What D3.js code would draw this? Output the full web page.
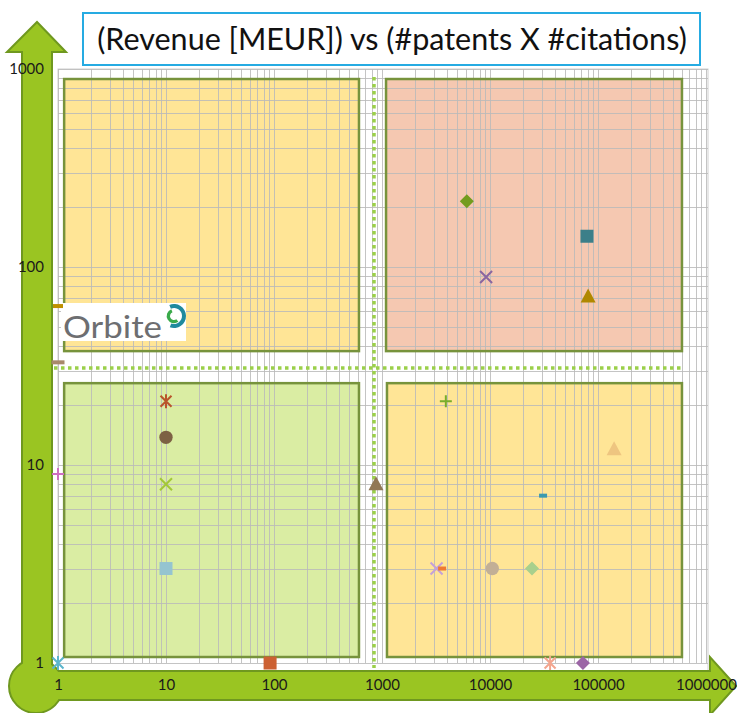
<!DOCTYPE html>
<html>
<head>
<meta charset="utf-8">
<script src="https://cdn.jsdelivr.net/npm/d3@7"></script>
<style>
  body { margin: 0; background: #fff; }
  svg { display: block; font-family: Lato, 'Open Sans', sans-serif; }
</style>
</head>
<body>
<div id="chart"></div>
<script>
// axis ticks
var xTicks = [1, 10, 100, 1000, 10000, 100000, 1000000]
var yTicks = [1, 10, 100, 1000]

// one entry per company: x = #patents X #citations, y = revenue [MEUR]
var patentsXcitations = [6100, 79000, 9200, 81000, 10, 10, 10, 10, 1, 880, 3900, 141000, 31000, 3200, 3600, 10500, 24500, 1, 92, 36000, 72500, 1, 1]
var revenueMEUR = [215, 143, 89, 71, 21, 13.8, 8, 3, 9, 8, 21, 12, 7, 3, 3, 3, 3, 1, 1, 1, 1, 63.5, 33]

// marker look for each entry above (same order)
var markerShapes = ['diamond', 'square', 'x', 'triangle', 'star', 'circle', 'x', 'square', 'plus', 'triangle', 'plus', 'triangle', 'dash', 'x', 'dash', 'circle', 'diamond', 'star', 'square', 'star', 'diamond', 'dash', 'dash']
var markerColors = ['#739c1f', '#3c7f89', '#8a66a0', '#b08800', '#b9542b', '#7d6144', '#a3c739', '#95c4d0', '#cf6fc3', '#917755', '#78ad2c', '#eec580', '#3b9ab0', '#c4a0d8', '#ee7a33', '#c2af96', '#a8d08d', '#5bb5cc', '#cc6133', '#f3a58e', '#9c66a6', '#bf9000', '#a8896b']

// quadrant boxes and thresholds (data units)
var quadrants = [
  { x0: 1.14, x1: 612, y0: 37.6, y1: 890, fill: '#ffe596' },
  { x0: 1090, x1: 599000, y0: 37.6, y1: 890, fill: '#f5c8b1' },
  { x0: 1.14, x1: 612, y0: 1.072, y1: 25.9, fill: '#daeda3' },
  { x0: 1112, x1: 599000, y0: 1.072, y1: 25.9, fill: '#ffe596' },
]
var xThreshold = 843
var yThreshold = 30.9

var width = 737
var height = 713

var svg = d3
  .select('#chart')
  .append('svg')
  .attr('width', width)
  .attr('height', height)

var x = d3.scaleLog().domain([1, 1000000]).range([58, 706])
var y = d3.scaleLog().domain([1, 1000]).range([663, 69])

var arrowFill = '#9ac522'
var arrowStroke = '#6f981f'

// plot frame
svg
  .append('rect')
  .attr('x', 58)
  .attr('y', 69)
  .attr('width', 650)
  .attr('height', 602)
  .attr('fill', '#fff')
  .attr('stroke', '#cfcfcf')

// quadrant fills
svg
  .selectAll('.quad')
  .data(quadrants)
  .enter()
  .append('rect')
  .attr('class', 'quad')
  .attr('x', d => x(d.x0))
  .attr('y', d => y(d.y1))
  .attr('width', d => x(d.x1) - x(d.x0))
  .attr('height', d => y(d.y0) - y(d.y1))
  .attr('fill', d => d.fill)

// gridlines: majors and minors on both log axes
function logLines(domain) {
  var out = []
  for (var p = Math.log10(domain[0]); p < Math.log10(domain[1]); p++) {
    for (var k = 1; k <= 9; k++) out.push(k * Math.pow(10, p))
  }
  out.push(domain[1])
  return out
}

var grid = svg.append('g').attr('stroke', '#bababa').attr('stroke-opacity', 0.85)
grid
  .selectAll('.vg')
  .data(logLines(x.domain()))
  .enter()
  .append('line')
  .attr('x1', d => Math.round(x(d)) + 0.5)
  .attr('x2', d => Math.round(x(d)) + 0.5)
  .attr('y1', y(1000))
  .attr('y2', y(1))
grid
  .selectAll('.hg')
  .data(logLines(y.domain()))
  .enter()
  .append('line')
  .attr('y1', d => Math.round(y(d)) + 0.5)
  .attr('y2', d => Math.round(y(d)) + 0.5)
  .attr('x1', x(1))
  .attr('x2', 708)

// quadrant borders
svg
  .selectAll('.quadb')
  .data(quadrants)
  .enter()
  .append('rect')
  .attr('x', d => x(d.x0))
  .attr('y', d => y(d.y1))
  .attr('width', d => x(d.x1) - x(d.x0))
  .attr('height', d => y(d.y0) - y(d.y1))
  .attr('fill', 'none')
  .attr('stroke', '#77933c')
  .attr('stroke-width', 2.5)

// dotted thresholds
svg
  .append('line')
  .attr('x1', x(xThreshold))
  .attr('x2', x(xThreshold))
  .attr('y1', 77)
  .attr('y2', 668)
  .attr('stroke', '#9bd04a')
  .attr('stroke-width', 3.5)
  .attr('stroke-dasharray', '3.5,3.5')
svg
  .append('line')
  .attr('x1', 54)
  .attr('x2', 682)
  .attr('y1', y(yThreshold))
  .attr('y2', y(yThreshold))
  .attr('stroke', '#9bd04a')
  .attr('stroke-width', 3.5)
  .attr('stroke-dasharray', '3.5,3.5')

// axis arrows
svg
  .append('path')
  .attr('d', 'M22,690 L22,52 L7,52 L37,22 L66,52 L52,52 L52,690 Z')
  .attr('fill', arrowFill)
  .attr('stroke', arrowStroke)
  .attr('stroke-width', 2)
svg
  .append('path')
  .attr('d', 'M36,671 L710,671 L710,657 L736,686 L710,715 L710,700 L36,700 Z')
  .attr('fill', arrowFill)
  .attr('stroke', arrowStroke)
  .attr('stroke-width', 2)
svg
  .append('circle')
  .attr('cx', 36)
  .attr('cy', 686)
  .attr('r', 27)
  .attr('fill', arrowFill)
  .attr('stroke', arrowStroke)
  .attr('stroke-width', 2)
// hide the seams where shapes meet
svg.append('rect').attr('x', 23).attr('y', 655).attr('width', 28).attr('height', 20).attr('fill', arrowFill)
svg.append('rect').attr('x', 45).attr('y', 672).attr('width', 30).attr('height', 27).attr('fill', arrowFill)

// axis labels
var yAxis = svg
  .append('g')
  .attr('transform', 'translate(44,0)')
  .call(d3.axisLeft(y).tickValues(yTicks).tickFormat(d3.format('d')).tickSize(0).tickPadding(0))
yAxis.select('.domain').remove()
yAxis.selectAll('text').attr('font-size', 15).attr('font-family', 'Lato').attr('fill', '#1a1a1a')

var xAxis = svg
  .append('g')
  .attr('transform', 'translate(0,685)')
  .call(d3.axisBottom(x).tickValues(xTicks).tickFormat(d3.format('d')).tickSize(0).tickPadding(0))
xAxis.select('.domain').remove()
xAxis
  .selectAll('text')
  .attr('y', 0)
  .attr('dy', '0.35em')
  .attr('font-size', 15)
  .attr('font-family', 'Lato')
  .attr('fill', '#1a1a1a')

// logo
svg.append('rect').attr('x', 61).attr('y', 303).attr('width', 125).attr('height', 38).attr('fill', '#fff')
svg
  .append('text')
  .attr('x', 63)
  .attr('y', 338)
  .attr('font-size', 31)
  .attr('fill', '#6d6e71')
  .attr('textLength', 99)
  .attr('lengthAdjust', 'spacingAndGlyphs')
  .text('Orbite')
var swirl = svg.append('g').attr('transform', 'translate(174,316)')
swirl
  .append('path')
  .attr('d', d3.arc()({ innerRadius: 8, outerRadius: 12, startAngle: -0.4, endAngle: 3.5 }))
  .attr('fill', '#1f8a9e')
swirl
  .append('path')
  .attr('d', d3.arc()({ innerRadius: 4, outerRadius: 7.3, startAngle: 2.5, endAngle: 5.9 }))
  .attr('fill', '#3aaa4a')

// markers
function markerPath(shape) {
  switch (shape) {
    case 'diamond':
      return 'M0,-7L7,0L0,7L-7,0Z'
    case 'square':
      return 'M-6.5,-6.5H6.5V6.5H-6.5Z'
    case 'triangle':
      return 'M0,-8L7.5,6L-7.5,6Z'
    case 'circle':
      return d3.symbol(d3.symbolCircle, 140)()
    case 'x':
      return 'M-6,-6L6,6M6,-6L-6,6'
    case 'plus':
      return 'M-6,0H6M0,-6V6'
    case 'star':
      return 'M-5.5,-5.5L5.5,5.5M5.5,-5.5L-5.5,5.5M0,-7V7'
  }
}

var points = patentsXcitations.map((v, i) => ({
  x: v,
  y: revenueMEUR[i],
  shape: markerShapes[i],
  color: markerColors[i],
}))

var marks = svg.append('g')
points.forEach(function(d) {
  var cx = x(d.x)
  var cy = y(d.y)
  if (d.shape === 'dash') {
    var w = d.color === '#bf9000' ? 10 : d.color === '#a8896b' ? 13 : 8
    marks
      .append('rect')
      .attr('x', cx - w / 2)
      .attr('y', cy - 2)
      .attr('width', w)
      .attr('height', 4)
      .attr('fill', d.color)
    return
  }
  var stroked = d.shape === 'x' || d.shape === 'plus' || d.shape === 'star'
  marks
    .append('path')
    .attr('transform', 'translate(' + cx + ',' + cy + ')')
    .attr('d', markerPath(d.shape))
    .attr('fill', stroked ? 'none' : d.color)
    .attr('stroke', stroked ? d.color : 'none')
    .attr('stroke-width', stroked ? 2 : 0)
})

// title
svg
  .append('rect')
  .attr('x', 83)
  .attr('y', 13)
  .attr('width', 617)
  .attr('height', 52)
  .attr('fill', '#fff')
  .attr('stroke', '#26abe2')
  .attr('stroke-width', 2)
var title = svg
  .append('text')
  .attr('x', 392)
  .attr('y', 50)
  .attr('text-anchor', 'middle')
  .attr('font-size', 29)
  .attr('fill', '#111')
  .text('(Revenue [MEUR]) vs (#patents X #citations)')
var tw = title.node().getComputedTextLength()
title.attr('font-size', 29 * 590 / tw)
</script>
</body>
</html>
